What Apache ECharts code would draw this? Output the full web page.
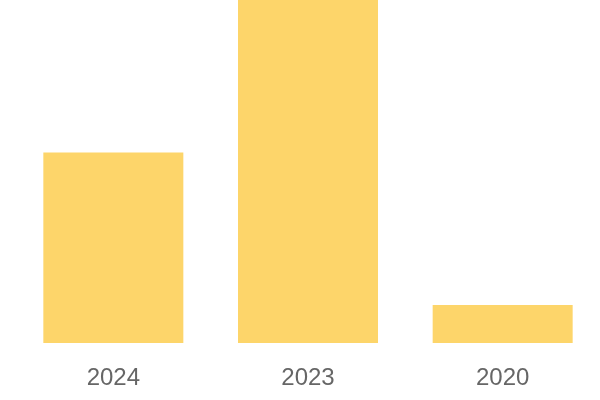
<!DOCTYPE html>
<html>
<head>
<meta charset="utf-8">
<script src="https://cdn.jsdelivr.net/npm/echarts@6/dist/echarts.min.js"></script>
<style>
  html, body { margin: 0; padding: 0; background: #fff; }
  #chart { width: 600px; height: 400px; }
</style>
</head>
<body>
<div id="chart"></div>
<script>
// categories and values
const years = ['2024', '2023', '2020'];
const counts = [5, 9, 1];

const myChart = echarts.init(document.getElementById('chart'), null, { renderer: 'canvas' });
myChart.setOption({
  animation: false,
  grid: { left: 16, right: 0, top: 0, bottom: 57 },
  xAxis: {
    type: 'category',
    data: years,
    axisLine: { show: false },
    axisTick: { show: false },
    axisLabel: {
      fontSize: 24,
      fontFamily: 'Liberation Sans',
      color: '#666',
      margin: 23
    }
  },
  yAxis: {
    type: 'value',
    min: 0,
    max: 9,
    show: false
  },
  series: [{
    type: 'bar',
    data: counts,
    barWidth: 140,
    itemStyle: { color: '#fdd56a' }
  }]
});
</script>
</body>
</html>
